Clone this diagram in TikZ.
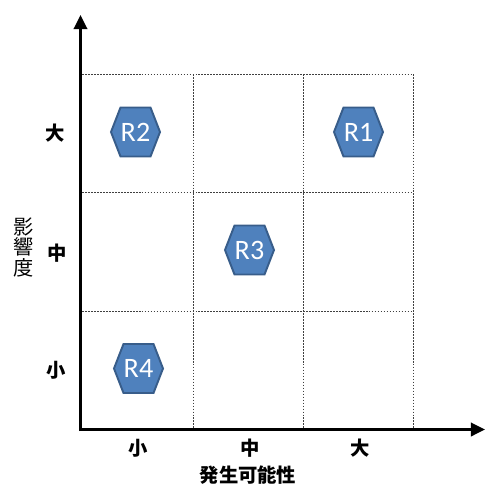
\documentclass[tikz,border=0pt]{standalone}
\usepackage{fontspec}
\setmainfont{Carlito}
\newfontfamily\cjk{Noto Sans CJK JP}
\usetikzlibrary{arrows.meta}
\definecolor{riskfill}{HTML}{4F81BD}
\definecolor{riskline}{HTML}{385D8A}
\tikzset{
  axis/.style={line width=1.7pt, -{Triangle[length=8pt,width=7.5pt]}},
  cell/.style={line width=0.5pt, black!75, dash pattern=on 1pt off 0.7pt},
  lvl/.style={font=\cjk\bfseries\fontsize{11}{13}\selectfont, inner sep=0pt},
  ytitle/.style={font=\cjk\fontsize{11.5}{11.6}\selectfont, align=center, inner sep=0pt},
  hexrisk/.style={draw=riskline, fill=riskfill, line width=1.1pt},
  risklabel/.style={text=white, font=\fontsize{16}{18}\selectfont, inner sep=0pt}
}

\begin{document}
\begin{tikzpicture}[x=0.02cm, y=-0.02cm]
\useasboundingbox (0,0) rectangle (500,498);

\foreach \gx in {193,303,413} \draw[cell] (\gx,74) -- (\gx,429.5);
\foreach \gy in {74,192.5,311} \draw[cell] (82,\gy) -- (413,\gy);

\coordinate (ybase) at (80.5,431);
\coordinate (ytip) at (80.5,15);
\coordinate (xbase) at (79,429.5);
\coordinate (xtip) at (485,429.5);
\draw[axis] (ybase) -- (ytip);
\draw[axis] (xbase) -- (xtip);

\foreach \name/\cx/\cy in {R1/358.5/132, R2/135.5/132, R3/249.5/250, R4/138.5/368.5}
  \draw[hexrisk] (\cx,\cy) +(-24.5,0) -- +(-15,-24.5) -- +(15,-24.5) -- +(24.5,0) -- +(15,24.5) -- +(-15,24.5) -- cycle
    (\cx,\cy) node[risklabel] (\name) {\name};

\path (138,448) node[lvl] (xs) {小}
  (250,448) node[lvl] (xm) {中}
  (360,448) node[lvl] (xl) {大}
  (56,370) node[lvl] (ys) {小}
  (57,253) node[lvl] (ym) {中}
  (55,133) node[lvl] (yl) {大}
  (248,475) node[lvl] (xname) {発生可能性}
  (24,247.5) node[ytitle] (yname) {影\\響\\度};
\end{tikzpicture}
\end{document}
